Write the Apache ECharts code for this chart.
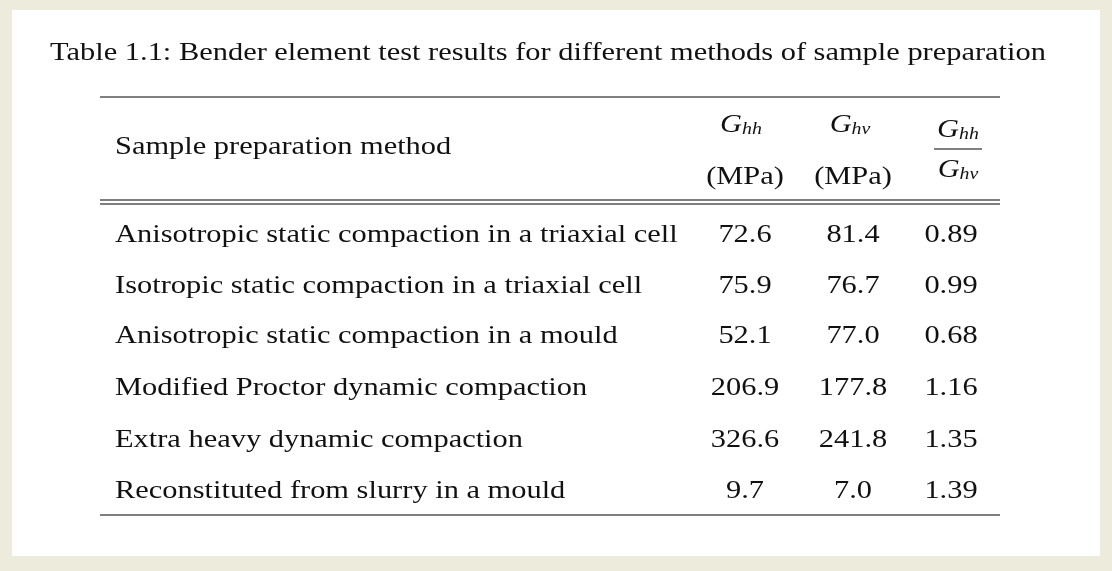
<!DOCTYPE html>
<html><head><meta charset="utf-8">
<script src="https://cdn.jsdelivr.net/npm/echarts@6/dist/echarts.min.js"></script>
<style>html,body{margin:0;padding:0;background:#edebdc}#c{width:1112px;height:571px}</style>
</head><body><div id="c"></div>
<script>
const title = "Table 1.1: Bender element test results for different methods of sample preparation";
const methods = ["Anisotropic static compaction in a triaxial cell","Isotropic static compaction in a triaxial cell","Anisotropic static compaction in a mould","Modified Proctor dynamic compaction","Extra heavy dynamic compaction","Reconstituted from slurry in a mould"];
const ghh = ["72.6","75.9","52.1","206.9","326.6","9.7"];
const ghv = ["81.4","76.7","77.0","177.8","241.8","7.0"];
const ratio = ["0.89","0.99","0.68","1.16","1.35","1.39"];

const F = "'Liberation Serif','DejaVu Serif',serif";
const FS = 26, SX = 1.17;
const rich = {g:{fontFamily:F,fontSize:FS,fontStyle:'italic',fill:'#111'},s:{fontFamily:F,fontSize:17,fontStyle:'italic',fill:'#111',verticalAlign:'bottom'}};
function txt(x,y,t,align){return {type:'text',x:x,y:y,scaleX:SX,style:{text:t,font:FS+'px '+F,fill:'#111',align:align||'left',verticalAlign:'middle'}};}
function gsub(x,y,sub){return {type:'text',x:x,y:y,scaleX:SX,style:{text:'{g|G}{s|'+sub+'}',rich:rich,align:'center',verticalAlign:'middle'}};}
function line(x1,x2,y){return {type:'line',shape:{x1:x1,y1:y,x2:x2,y2:y},style:{stroke:'#000',lineWidth:1}};}
const els = [
 {type:'rect',shape:{x:12,y:10,width:1088,height:546},style:{fill:'#fff'}},
 txt(548,53,title,'center'),
 line(100,1000,97),line(100,1000,200),line(100,1000,204),line(100,1000,515),
 txt(115,147,'Sample preparation method'),
 gsub(741,125,'hh'),txt(745,177,'(MPa)','center'),
 gsub(850,125,'hv'),txt(853,177,'(MPa)','center'),
 gsub(958,130,'hh'),line(934,982,149),gsub(958,170,'hv')
];
const rowY=[235,286,336,388,440,491];
methods.forEach((m,i)=>{
 els.push(txt(115,rowY[i],m));
 els.push(txt(745,rowY[i],ghh[i],'center'));
 els.push(txt(853,rowY[i],ghv[i],'center'));
 els.push(txt(951,rowY[i],ratio[i],'center'));
});
const ch=echarts.init(document.getElementById('c'));
ch.setOption({backgroundColor:'#edebdc',graphic:{elements:els}});
</script></body></html>
